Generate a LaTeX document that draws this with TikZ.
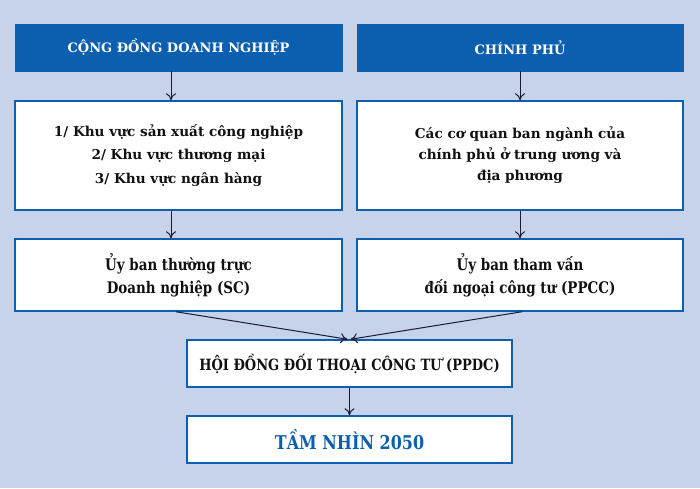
\documentclass[tikz,border=0pt]{standalone}
\usepackage{fontspec}
\setmainfont{DejaVu Serif}
\newfontfamily\condfont{DejaVu Serif}[FakeStretch=0.84]
\usetikzlibrary{arrows.meta}
\definecolor{bgblue}{HTML}{C6D3EA}
\definecolor{hdrblue}{HTML}{0B5FAE}
\definecolor{arrowc}{HTML}{1B1B33}
\definecolor{txt}{HTML}{111111}
\tikzset{
  hdr/.style={fill=hdrblue, draw=hdrblue, text=white, minimum width=327pt, minimum height=47pt, inner sep=0pt, font=\bfseries\fontsize{13}{16}\selectfont},
  wbox/.style={fill=white, draw=hdrblue, line width=1.5pt, text=txt, minimum width=327pt, inner sep=0pt, align=center},
  conn/.style={draw=arrowc, line width=1pt, -{To[length=7pt,width=10pt]}}
}
\begin{document}
\begin{tikzpicture}[x=1pt,y=-1pt]
\fill[bgblue] (0,0) rectangle (700,488);
\useasboundingbox (0,0) rectangle (700,488);
\node[hdr] (h1) at (178.5,47.5) {CỘNG ĐỒNG DOANH NGHIỆP};
\node[hdr, minimum width=326pt] (h2) at (520,47.5) {CHÍNH PHỦ};
\node[wbox, minimum height=109pt, font=\bfseries\fontsize{13.6}{23.5}\selectfont] (b1) at (178.5,155.5) {1/ Khu vực sản xuất công nghiệp\\2/ Khu vực thương mại\\3/ Khu vực ngân hàng};
\node[wbox, minimum width=326pt, minimum height=109pt, font=\bfseries\fontsize{13.6}{21}\selectfont] (b2) at (520,155.5) {Các cơ quan ban ngành của\\chính phủ ở trung ương và\\địa phương};
\node[wbox, minimum height=72pt, font=\condfont\bfseries\fontsize{16}{23}\selectfont] (c1) at (178.5,275) {Ủy ban thường trực\\Doanh nghiệp (SC)};
\node[wbox, minimum width=326pt, minimum height=72pt, font=\condfont\bfseries\fontsize{16}{23}\selectfont] (c2) at (520,275) {Ủy ban tham vấn\\đối ngoại công tư (PPCC)};
\node[wbox, minimum width=325pt, minimum height=47pt, font=\condfont\bfseries\fontsize{15.5}{18}\selectfont] (d) at (349.5,363.5) {HỘI ĐỒNG ĐỐI THOẠI CÔNG TƯ (PPDC)};
\node[wbox, minimum width=325pt, minimum height=47pt, text=hdrblue, font=\condfont\bfseries\fontsize{19}{22}\selectfont] (e) at (349.5,439.5) {TẦM NHÌN 2050};
\draw[conn] ([xshift=-7.5pt]h1.south) -- ([xshift=-7.5pt]b1.north);
\draw[conn] (h2.south) -- (b2.north);
\draw[conn] ([xshift=-7.5pt]b1.south) -- ([xshift=-7.5pt]c1.north);
\draw[conn] (b2.south) -- (c2.north);
\draw[conn] ([xshift=-2.5pt]c1.south) -- ([xshift=-2pt]d.north);
\draw[conn] ([xshift=2pt]c2.south) -- ([xshift=1pt]d.north);
\draw[conn] (d.south) -- (e.north);
\end{tikzpicture}
\end{document}
